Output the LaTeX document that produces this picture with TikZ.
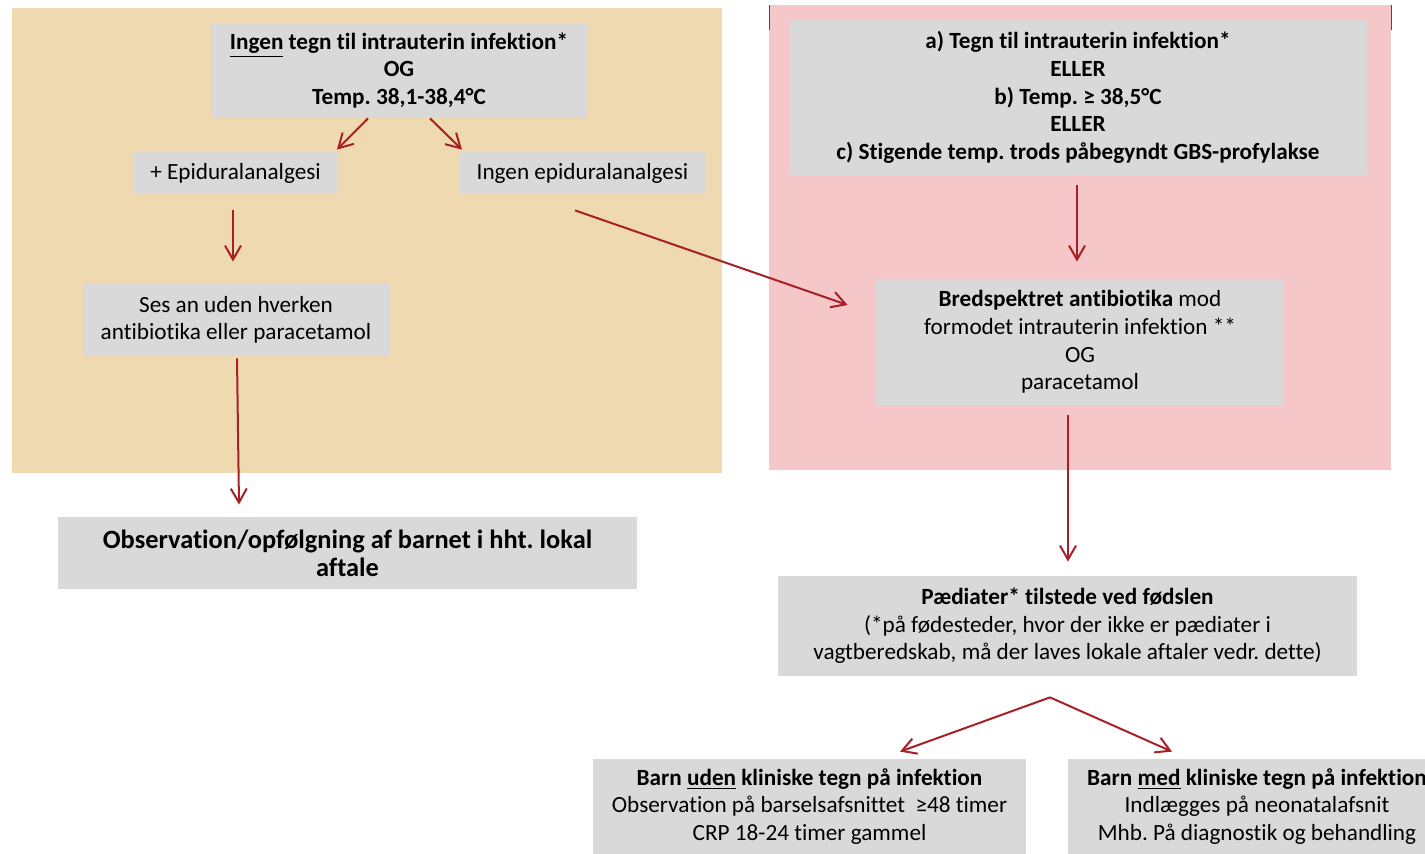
\documentclass[tikz,border=0pt]{standalone}
\usepackage{fontspec}
\setmainfont{Carlito}[Ligatures=NoCommon]
\frenchspacing
\usetikzlibrary{arrows.meta,calc}
\definecolor{tanbg}{RGB}{239,217,176}
\definecolor{pinkbg}{RGB}{245,199,201}
\definecolor{boxgray}{RGB}{217,217,217}
\definecolor{arrred}{RGB}{168,32,38}
\begin{document}
\begin{tikzpicture}[x=0.5pt,y=-0.5pt,
    box/.style={fill=boxgray,inner sep=0pt,align=center,font=\fontsize{11.6}{13.8}\selectfont},
    boldbox/.style={box,font=\fontsize{11.6}{13.8}\selectfont\bfseries},
    bigbox/.style={box,font=\fontsize{13.2}{14}\selectfont\bfseries},
    arr/.style={draw=arrred,line width=1pt,-{Straight Barb[length=7pt,width=8pt]}}]
    \path [use as bounding box,clip] (0,0) rectangle (1425,854);
    \fill [tanbg] (12,8) rectangle (722,473);
    \fill [pinkbg] (769,5) rectangle (1391,470);
    \draw [gray!60!black,line width=0.5pt] (769,5) -- (769,30) (1391,5) -- (1391,30);
    \node [boldbox,minimum width=188pt,minimum height=47.5pt] (ingentegn) at (399,70.5)
        {\underline{Ingen} tegn til intrauterin infektion*\\OG\\Temp. 38,1-38,4°C};
    \node [box,minimum width=102.5pt,minimum height=21pt] (epidural) at (235.5,173) {+ Epiduralanalgesi};
    \node [box,minimum width=122.5pt,minimum height=21pt] (ingenepi) at (582.5,173) {Ingen epiduralanalgesi};
    \node [box,minimum width=153pt,minimum height=36pt] (sesan) at (236,320)
        {Ses an uden hverken\\antibiotika eller paracetamol};
    \node [bigbox,minimum width=289.5pt,minimum height=36pt] (observation) at (347.5,553)
        {Observation/opfølgning af barnet i hht. lokal\\aftale};
    \node [boldbox,minimum width=289pt,minimum height=77.5pt] (tegn) at (1078,97.5)
        {a) Tegn til intrauterin infektion*\\ELLER\\b) Temp. ≥ 38,5°C\\ELLER\\c) Stigende temp. trods påbegyndt GBS-profylakse};
    \node [box,minimum width=204pt,minimum height=63pt] (bredspektret) at (1080,342)
        {\textbf{Bredspektret antibiotika} mod\\formodet intrauterin infektion **\\OG\\paracetamol};
    \node [box,minimum width=289.5pt,minimum height=50pt] (paediater) at (1067.5,626)
        {\textbf{Pædiater* tilstede ved fødslen}\\(*på fødesteder, hvor der ikke er pædiater i\\vagtberedskab, må der laves lokale aftaler vedr. dette)};
    \node [box,minimum width=216.5pt,minimum height=47.5pt] (barnuden) at (809.5,806.5)
        {\textbf{Barn \underline{uden} kliniske tegn på infektion}\\Observation på barselsafsnittet\ \ ≥48 timer\\CRP 18-24 timer gammel};
    \node [box,minimum width=189pt,minimum height=47.5pt] (barnmed) at (1257,806.5)
        {\textbf{Barn \underline{med} kliniske tegn på infektion}\\Indlægges på neonatalafsnit\\Mhb. På diagnostik og behandling};
    \coordinate (split) at ($(paediater.south)+(-17.5,21)$);
    \draw [arr] ($(ingentegn.south)+(-31,0)$) -- ($(epidural.north)+(101.5,-2)$);
    \draw [arr] ($(ingentegn.south)+(31,0)$) -- ($(ingenepi.north)+(-120.5,-2)$);
    \draw [arr] ($(epidural.south)+(-2.5,16)$) -- ($(sesan.north)+(-3,-22)$);
    \draw [arr] ($(sesan.south)+(1,2)$) -- ($(observation.north)+(-108.5,-12)$);
    \draw [arr] ($(ingenepi.south)+(-7.5,16)$) -- ($(bredspektret.west)+(-28,-37)$);
    \draw [arr] ($(tegn.south)+(-1,10)$) -- ($(bredspektret.north)+(-3,-17)$);
    \draw [arr] ($(bredspektret.south)+(-12,10)$) -- ($(paediater.north)+(0.5,-14)$);
    \draw [arr] (split) -- ($(barnuden.north)+(90.5,-7)$);
    \draw [arr] (split) -- ($(barnmed.north)+(-85,-7)$);
\end{tikzpicture}
\end{document}
